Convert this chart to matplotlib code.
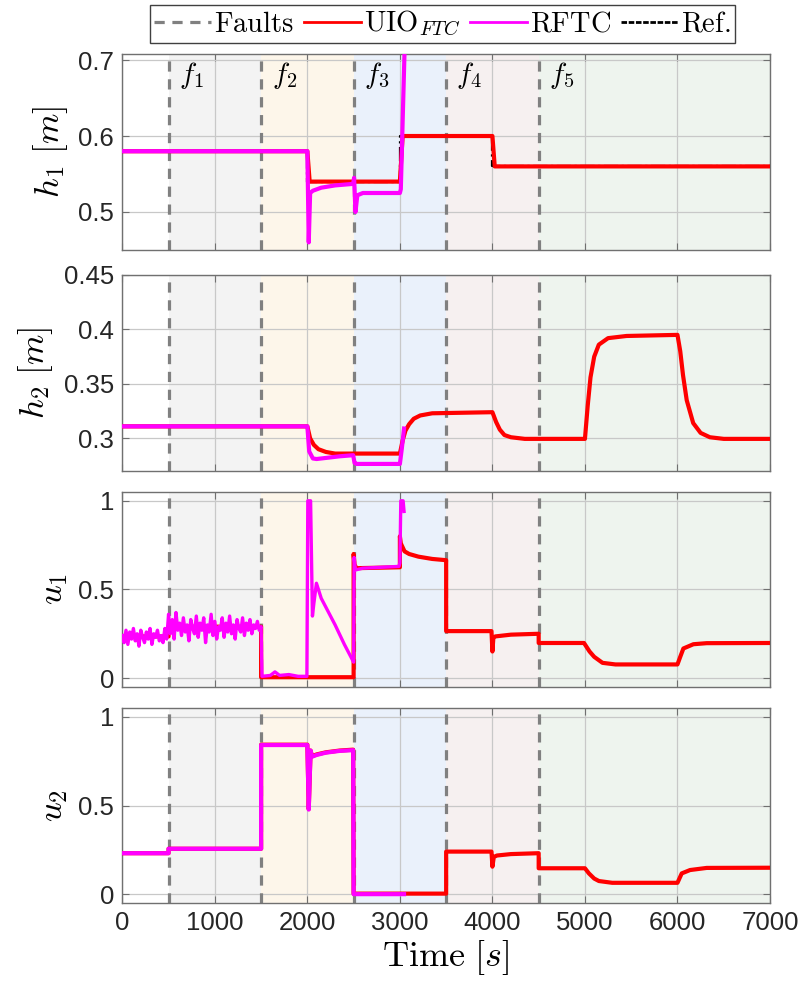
import numpy as np
import matplotlib
matplotlib.use("Agg")
import matplotlib.pyplot as plt
from matplotlib.lines import Line2D

plt.rcParams['mathtext.fontset'] = 'cm'
plt.rcParams['font.family'] = ['Liberation Sans', 'DejaVu Sans']

# fault instants and shaded fault windows
FAULT_T = [500, 1500, 2500, 3500, 4500]
FAULT_NAMES = [r'$f_1$', r'$f_2$', r'$f_3$', r'$f_4$', r'$f_5$']
SPANS = [(500, 1500), (1500, 2500), (2500, 3500), (3500, 4500), (4500, 7000)]
SPAN_COLORS = ['#f3f3f3', '#fdf6ea', '#eaf1fb', '#f6f0f0', '#eef4ee']

# h1 [m]
h1_ref_t = [0, 2000, 2000, 3000, 3000, 4000, 4000, 7000]
h1_ref = [0.58, 0.58, 0.54, 0.54, 0.60, 0.60, 0.56, 0.56]
h1_uio_t = [0, 2000, 2025, 3000, 3030, 4000, 4025, 7000]
h1_uio = [0.58, 0.58, 0.54, 0.54, 0.60, 0.60, 0.56, 0.56]
h1_rftc_t = [0, 2000, 2015, 2030, 2060, 2150, 2300, 2495, 2505, 2520, 2540,
             2600, 3000, 3010, 3050]
h1_rftc = [0.58, 0.58, 0.46, 0.525, 0.528, 0.532, 0.535, 0.537, 0.545, 0.50,
           0.522, 0.525, 0.525, 0.53, 0.71]

# h2 [m]
h2_uio_t = [0, 2000, 2030, 2070, 2120, 2200, 2300, 3000, 3030, 3060, 3100,
            3150, 3220, 3350, 4000, 4040, 4080, 4130, 4200, 4350, 5000, 5030,
            5060, 5100, 5150, 5250, 5450, 6000, 6030, 6060, 6100, 6170, 6250,
            6350, 6500, 7000]
h2_uio = [0.311, 0.311, 0.300, 0.294, 0.290, 0.2875, 0.286, 0.286, 0.298,
          0.307, 0.313, 0.318, 0.321, 0.323, 0.324, 0.315, 0.308, 0.303, 0.301,
          0.2995, 0.2995, 0.330, 0.356, 0.375, 0.386, 0.392, 0.394, 0.395,
          0.380, 0.358, 0.335, 0.314, 0.305, 0.301, 0.2995, 0.2995]
h2_rftc_t = [0, 2000, 2020, 2060, 2100, 2200, 2350, 2495, 2510, 2530, 3000,
             3020, 3045]
h2_rftc = [0.311, 0.311, 0.288, 0.2815, 0.281, 0.282, 0.2835, 0.2845, 0.2775,
           0.2765, 0.2765, 0.29, 0.309]

# u1, noisy part of RFTC before f2 sampled every 20 s
u1_noise = [0.24, 0.20, 0.27, 0.19, 0.26, 0.22, 0.28, 0.21, 0.25, 0.18, 0.27,
            0.23, 0.20, 0.26, 0.22, 0.28, 0.19, 0.25, 0.23, 0.27, 0.21, 0.24,
            0.20, 0.28, 0.22,
            0.36, 0.25, 0.33, 0.22, 0.37, 0.27, 0.31, 0.24, 0.34, 0.26, 0.30,
            0.21, 0.33, 0.28, 0.25, 0.35, 0.23, 0.31, 0.27, 0.34, 0.20, 0.30,
            0.26, 0.36, 0.24, 0.32, 0.22, 0.29, 0.27, 0.34, 0.23, 0.31, 0.26,
            0.35, 0.25, 0.30, 0.22, 0.33, 0.28, 0.26, 0.34, 0.24, 0.31, 0.27,
            0.33, 0.25, 0.30, 0.28, 0.32, 0.27]
u1_noise_t = list(range(0, 1500, 20))
u1_rftc_t = u1_noise_t + [1500, 1510, 1600, 1650, 1700, 1800, 1900, 1995,
                          2005, 2035, 2055, 2070, 2098, 2150, 2200, 2300, 2400,
                          2490, 2500, 2505, 2520, 2600, 2800, 2990, 3000, 3010,
                          3035, 3045]
u1_rftc = u1_noise + [0.29, 0.01, 0.015, 0.035, 0.015, 0.02, 0.01, 0.01,
                      1.0, 1.0, 0.35, 0.42, 0.535, 0.45, 0.40, 0.30, 0.19,
                      0.10, 0.09, 0.68, 0.61, 0.62, 0.625, 0.63, 0.65, 1.0,
                      1.0, 0.94]
u1_uio_t = [0, 500, 500, 1500, 1500, 2500, 2500, 2510, 2530, 3000, 3000, 3010,
            3050, 3100, 3200, 3350, 3500, 3500, 3990, 4000, 4010, 4030, 4200,
            4500, 4500, 4990, 5050, 5100, 5190, 5330, 6000, 6030, 6064, 6172,
            6316, 7000]
u1_uio = [0.235, 0.235, 0.29, 0.29, 0.005, 0.005, 0.70, 0.64, 0.62, 0.625,
          0.80, 0.76, 0.715, 0.70, 0.685, 0.672, 0.665, 0.265, 0.265, 0.15,
          0.225, 0.235, 0.245, 0.25, 0.198, 0.198, 0.15, 0.12, 0.086, 0.077,
          0.077, 0.12, 0.167, 0.191, 0.197, 0.198]

# u2
u2_rftc_t = [0, 500, 500, 1500, 1500, 2000, 2015, 2035, 2050, 2100, 2200,
             2350, 2495, 2500, 3045]
u2_rftc = [0.231, 0.231, 0.256, 0.256, 0.841, 0.841, 0.477, 0.81, 0.775,
           0.785, 0.798, 0.808, 0.812, 0.0, 0.0]
u2_uio_t = [0, 500, 500, 1500, 1500, 2000, 2015, 2035, 2050, 2100, 2200, 2350,
            2495, 2500, 3500, 3500, 3990, 4000, 4015, 4050, 4200, 4500, 4500,
            5000, 5043, 5100, 5151, 5295, 6000, 6046, 6136, 6316, 7000]
u2_uio = [0.231, 0.231, 0.256, 0.256, 0.843, 0.843, 0.48, 0.81, 0.778, 0.788,
          0.80, 0.81, 0.815, 0.003, 0.003, 0.24, 0.24, 0.155, 0.21, 0.218,
          0.226, 0.231, 0.146, 0.146, 0.117, 0.088, 0.074, 0.064, 0.064, 0.117,
          0.136, 0.148, 0.149]

RED = '#ff0000'
MAG = '#ff00ff'
GREY = '#808080'
FRAME = '#707070'
TXT = '#262626'

fig = plt.figure(figsize=(8.03, 9.92), dpi=100)
left, width = 0.1523, 0.8066
bottoms = [0.7480, 0.5252, 0.3075, 0.0897]
heights = [0.1976, 0.1976, 0.1966, 0.1966]
axs = [fig.add_axes([left, b, width, h]) for b, h in zip(bottoms, heights)]

panels = [
    (r'$h_1\ [m]$', (0.45, 0.708), [0.5, 0.6, 0.7], ['0.5', '0.6', '0.7']),
    (r'$h_2\ [m]$', (0.27, 0.45), [0.3, 0.35, 0.4, 0.45],
     ['0.3', '0.35', '0.4', '0.45']),
    (r'$u_1$', (-0.05, 1.05), [0, 0.5, 1], ['0', '0.5', '1']),
    (r'$u_2$', (-0.05, 1.05), [0, 0.5, 1], ['0', '0.5', '1']),
]
series = [
    [(h1_uio_t, h1_uio), (h1_rftc_t, h1_rftc)],
    [(h2_uio_t, h2_uio), (h2_rftc_t, h2_rftc)],
    [(u1_uio_t, u1_uio), (u1_rftc_t, u1_rftc)],
    [(u2_uio_t, u2_uio), (u2_rftc_t, u2_rftc)],
]

for i, ax in enumerate(axs):
    label, ylim, yt, ytl = panels[i]
    for (a, b), c in zip(SPANS, SPAN_COLORS):
        ax.axvspan(a, b, color=c, lw=0, zorder=0)
    ax.grid(True, color='#c8c8c8', lw=0.9, zorder=1)
    ax.set_axisbelow(True)
    for ft in FAULT_T:
        ax.axvline(ft, color=GREY, lw=2.3, dashes=(3.2, 2.4), zorder=2)
    if i == 0:
        ax.plot(h1_ref_t, h1_ref, color='k', lw=1.6, ls='-.', zorder=3)
    (t_u, v_u), (t_r, v_r) = series[i]
    ax.plot(t_u, v_u, color=RED, lw=3, zorder=4)
    ax.plot(t_r, v_r, color=MAG, lw=3 if i != 2 else 2.4, zorder=5)

    ax.set_xlim(0, 7000)
    ax.set_ylim(*ylim)
    ax.set_xticks(range(0, 7001, 1000))
    ax.set_yticks(yt)
    ax.set_yticklabels(ytl)
    ax.tick_params(direction='in', top=True, right=True, length=5,
                   width=0.8, color=FRAME, labelsize=18.5, labelcolor=TXT,
                   pad=6)
    for s in ax.spines.values():
        s.set_color(FRAME)
        s.set_linewidth(1.0)
    ax.set_ylabel(label, fontsize=25, labelpad=6)
    if i < 3:
        ax.tick_params(labelbottom=False)

for ft, name in zip(FAULT_T, FAULT_NAMES):
    axs[0].text(ft + 250, 0.679, name, fontsize=21, ha='center', va='center')

axs[3].set_xlabel(r'$\mathrm{Time}\ [s]$', fontsize=26, labelpad=2)

handles = [
    Line2D([], [], color=GREY, lw=2.3, dashes=(3.2, 2.4)),
    Line2D([], [], color=RED, lw=2),
    Line2D([], [], color=MAG, lw=2),
    Line2D([], [], color='k', lw=2, ls='--', dashes=(2, 0.6)),
]
names = [r'$\mathrm{Faults}$', r'$\mathrm{UIO}_{FTC}$', r'$\mathrm{RFTC}$',
         r'$\mathrm{Ref.}$']
leg = fig.legend(handles, names, loc='center', bbox_to_anchor=(0.551, 0.976),
                 ncol=4, fontsize=20.5, handlelength=2.0, handletextpad=0.1,
                 columnspacing=0.35, borderpad=0.15, borderaxespad=0,
                 fancybox=False, framealpha=1)
leg.get_frame().set_edgecolor('#404040')
leg.get_frame().set_linewidth(1.0)

fig.savefig('out.png', dpi=100)
